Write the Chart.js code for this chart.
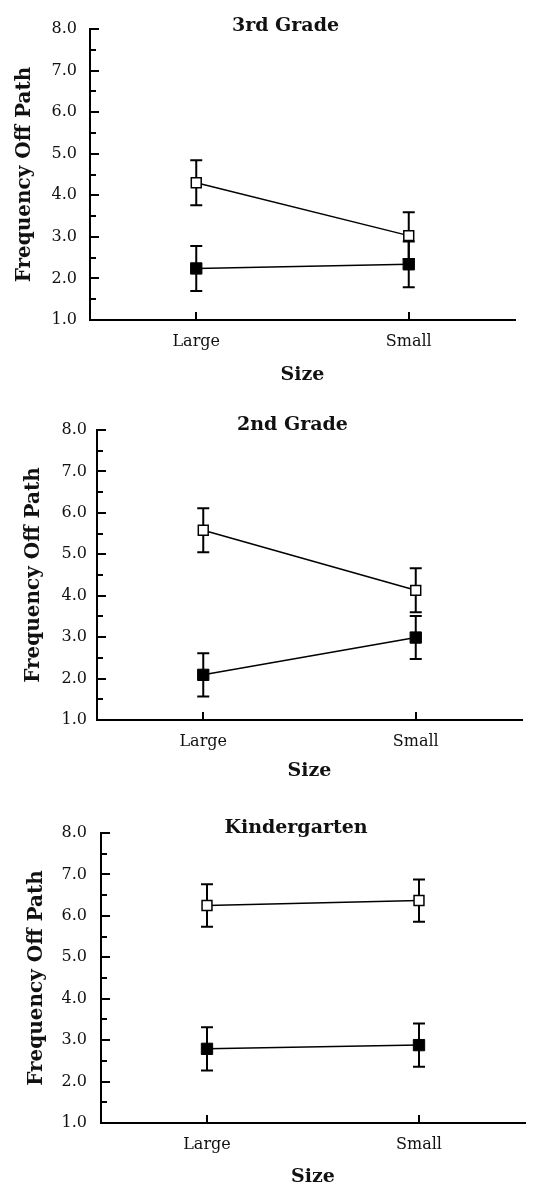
<!DOCTYPE html>
<html>
<head>
<meta charset="utf-8">
<script src="https://cdn.jsdelivr.net/npm/chart.js@4.4.1/dist/chart.umd.min.js"></script>
<style>
  html, body { margin: 0; padding: 0; background: #fff; }
  #wrap { position: relative; width: 535px; height: 1189px; }
  canvas { position: absolute; left: 0; }
</style>
</head>
<body>
<div id="wrap">
  <canvas id="c3" width="535" height="390" style="top:0px"></canvas>
  <canvas id="c2" width="535" height="400" style="top:390px"></canvas>
  <canvas id="cK" width="535" height="399" style="top:790px"></canvas>
</div>
<script>
// Categories on the x axis
const sizes = ['Large', 'Small'];

// Y axis range and tick spacing
const yMin = 1;
const yMax = 8;
const yStep = 1;

// 3rd Grade
const grade3Open = [4.30, 3.03];
const grade3OpenErr = [0.54, 0.56];
const grade3Filled = [2.24, 2.34];
const grade3FilledErr = [0.54, 0.55];

// 2nd Grade
const grade2Open = [5.58, 4.13];
const grade2OpenErr = [0.53, 0.53];
const grade2Filled = [2.09, 2.99];
const grade2FilledErr = [0.52, 0.52];

// Kindergarten
const kinderOpen = [6.25, 6.37];
const kinderOpenErr = [0.51, 0.51];
const kinderFilled = [2.79, 2.88];
const kinderFilledErr = [0.52, 0.52];

const FONT = "'DejaVu Serif', 'Liberation Serif', serif";
const INK = '#111';

// Vertical error bars with caps, drawn beneath the markers
const errorBars = {
  id: 'errorBars',
  beforeDatasetsDraw(chart) {
    const { ctx } = chart;
    const y = chart.scales.y;
    ctx.save();
    ctx.strokeStyle = '#000';
    ctx.lineWidth = 2;
    chart.data.datasets.forEach((ds, i) => {
      const meta = chart.getDatasetMeta(i);
      meta.data.forEach((pt, j) => {
        const v = ds.data[j];
        const e = ds.errors[j];
        const yTop = y.getPixelForValue(v + e);
        const yBot = y.getPixelForValue(v - e);
        const x = pt.x;
        ctx.beginPath();
        ctx.moveTo(x, yTop); ctx.lineTo(x, yBot);
        ctx.moveTo(x - 6, yTop); ctx.lineTo(x + 6, yTop);
        ctx.moveTo(x - 6, yBot); ctx.lineTo(x + 6, yBot);
        ctx.stroke();
      });
    });
    ctx.restore();
  }
};

// Inward tick marks on both axes plus the panel heading
const panelDecor = {
  id: 'panelDecor',
  afterDraw(chart, args, opts) {
    const { ctx, chartArea } = chart;
    const x = chart.scales.x;
    const y = chart.scales.y;
    ctx.save();
    ctx.strokeStyle = '#000';
    ctx.lineWidth = 2;
    ctx.beginPath();
    for (let v = yMin + 0.5; v <= yMax + 1e-9; v += 0.5) {
      const py = Math.round(y.getPixelForValue(v));
      const len = Math.abs(v - Math.round(v)) < 1e-9 ? 9 : 6;
      ctx.moveTo(chartArea.left, py);
      ctx.lineTo(chartArea.left + len, py);
    }
    sizes.forEach((s, i) => {
      const px = Math.round(x.getPixelForValue(i));
      ctx.moveTo(px, chartArea.bottom);
      ctx.lineTo(px, chartArea.bottom - 8);
    });
    ctx.stroke();

    ctx.fillStyle = INK;
    ctx.font = 'bold 19px ' + FONT;
    ctx.textAlign = 'center';
    ctx.textBaseline = 'alphabetic';
    ctx.fillText(opts.text, chartArea.left + 0.46 * (chartArea.right - chartArea.left), chartArea.top + opts.baseline);
    ctx.restore();
  }
};

function makePanel(id, heading, openVals, openErr, filledVals, filledErr, box) {
  new Chart(document.getElementById(id), {
    type: 'line',
    data: {
      labels: sizes,
      datasets: [
        {
          data: filledVals,
          errors: filledErr,
          borderColor: '#000',
          borderWidth: 1.5,
          backgroundColor: '#000',
          pointStyle: 'rect',
          pointRadius: 8,
          pointBackgroundColor: '#000',
          pointBorderColor: '#000',
          pointBorderWidth: 1,
          fill: false,
          tension: 0
        },
        {
          data: openVals,
          errors: openErr,
          borderColor: '#000',
          borderWidth: 1.5,
          backgroundColor: '#fff',
          pointStyle: 'rect',
          pointRadius: 7,
          pointBackgroundColor: '#fff',
          pointBorderColor: '#000',
          pointBorderWidth: 1.5,
          fill: false,
          tension: 0
        }
      ]
    },
    options: {
      responsive: false,
      animation: false,
      events: [],
      layout: { padding: { left: 0, right: box.right, top: box.top, bottom: 0 } },
      plugins: {
        legend: { display: false },
        tooltip: { enabled: false },
        panelDecor: { text: heading, baseline: box.titleBase }
      },
      scales: {
        x: {
          type: 'category',
          offset: true,
          grid: { display: false, drawTicks: false },
          border: { display: true, color: '#000', width: 2 },
          ticks: { color: INK, font: { family: FONT, size: 16 }, padding: box.xPad, maxRotation: 0 },
          title: { display: true, text: 'Size', color: INK, font: { family: FONT, size: 19, weight: 'bold' }, padding: { top: 0, bottom: box.sizePad } },
          afterFit(scale) { scale.height = box.xHeight; }
        },
        y: {
          min: yMin,
          max: yMax,
          grid: { display: false, drawTicks: false },
          border: { display: true, color: '#000', width: 2 },
          ticks: {
            stepSize: yStep,
            color: INK,
            font: { family: FONT, size: 16 },
            padding: box.yPad,
            callback: (v) => Number(v).toFixed(1)
          },
          title: { display: true, text: 'Frequency Off Path', color: INK, font: { family: FONT, size: 20, weight: 'bold' }, padding: { top: box.yTitlePad, bottom: 0 } },
          afterFit(scale) { scale.width = box.left; }
        }
      }
    },
    plugins: [errorBars, panelDecor]
  });
}

makePanel('c3', '3rd Grade', grade3Open, grade3OpenErr, grade3Filled, grade3FilledErr,
  { left: 90, right: 20, top: 29, xHeight: 70, xPad: 12, yPad: 13, sizePad: 4, yTitlePad: 13, titleBase: 2 });
makePanel('c2', '2nd Grade', grade2Open, grade2OpenErr, grade2Filled, grade2FilledErr,
  { left: 97, right: 13, top: 40, xHeight: 70, xPad: 12, yPad: 10, sizePad: 8, yTitlePad: 22, titleBase: 0 });
makePanel('cK', 'Kindergarten', kinderOpen, kinderOpenErr, kinderFilled, kinderFilledErr,
  { left: 101, right: 10, top: 43, xHeight: 66, xPad: 12, yPad: 14, sizePad: 1, yTitlePad: 25, titleBase: 0 });
</script>
</body>
</html>
